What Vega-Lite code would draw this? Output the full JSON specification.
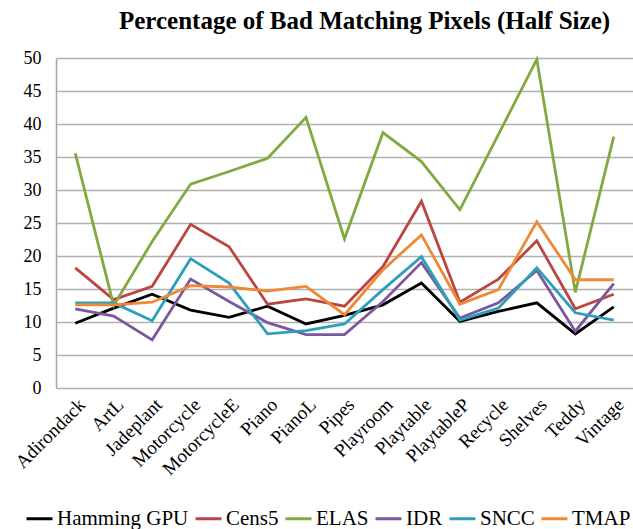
{
  "$schema": "https://vega.github.io/schema/vega-lite/v6.json",
  "width": 577,
  "height": 330,
  "autosize": {"type": "none"},
  "padding": {"left": 56, "top": 58, "right": 0, "bottom": 141},
  "background": "white",
  "title": {
    "text": "Percentage of Bad Matching Pixels (Half Size)",
    "font": "Liberation Serif",
    "fontSize": 25,
    "fontWeight": "bold",
    "color": "#000000",
    "anchor": "middle",
    "frame": "group",
    "dx": 20,
    "offset": 15
  },
  "config": {
    "view": {"stroke": null},
    "font": "Liberation Serif",
    "axis": {"labelFont": "Liberation Serif"},
    "legend": {"labelFont": "Liberation Serif"}
  },
  "data": {
    "values": [
      {"scene": "Adirondack", "method": "Hamming GPU", "value": 9.8},
      {"scene": "ArtL", "method": "Hamming GPU", "value": 12.1},
      {"scene": "Jadeplant", "method": "Hamming GPU", "value": 14.2},
      {"scene": "Motorcycle", "method": "Hamming GPU", "value": 11.8},
      {"scene": "MotorcycleE", "method": "Hamming GPU", "value": 10.7},
      {"scene": "Piano", "method": "Hamming GPU", "value": 12.4},
      {"scene": "PianoL", "method": "Hamming GPU", "value": 9.7},
      {"scene": "Pipes", "method": "Hamming GPU", "value": 11.0},
      {"scene": "Playroom", "method": "Hamming GPU", "value": 12.6},
      {"scene": "Playtable", "method": "Hamming GPU", "value": 15.9},
      {"scene": "PlaytableP", "method": "Hamming GPU", "value": 10.1},
      {"scene": "Recycle", "method": "Hamming GPU", "value": 11.6},
      {"scene": "Shelves", "method": "Hamming GPU", "value": 12.9},
      {"scene": "Teddy", "method": "Hamming GPU", "value": 8.2},
      {"scene": "Vintage", "method": "Hamming GPU", "value": 12.3},

      {"scene": "Adirondack", "method": "Cens5", "value": 18.2},
      {"scene": "ArtL", "method": "Cens5", "value": 13.4},
      {"scene": "Jadeplant", "method": "Cens5", "value": 15.4},
      {"scene": "Motorcycle", "method": "Cens5", "value": 24.8},
      {"scene": "MotorcycleE", "method": "Cens5", "value": 21.4},
      {"scene": "Piano", "method": "Cens5", "value": 12.7},
      {"scene": "PianoL", "method": "Cens5", "value": 13.5},
      {"scene": "Pipes", "method": "Cens5", "value": 12.4},
      {"scene": "Playroom", "method": "Cens5", "value": 18.4},
      {"scene": "Playtable", "method": "Cens5", "value": 28.3},
      {"scene": "PlaytableP", "method": "Cens5", "value": 13.0},
      {"scene": "Recycle", "method": "Cens5", "value": 16.5},
      {"scene": "Shelves", "method": "Cens5", "value": 22.3},
      {"scene": "Teddy", "method": "Cens5", "value": 12.0},
      {"scene": "Vintage", "method": "Cens5", "value": 14.2},

      {"scene": "Adirondack", "method": "ELAS", "value": 35.6},
      {"scene": "ArtL", "method": "ELAS", "value": 12.5},
      {"scene": "Jadeplant", "method": "ELAS", "value": 22.2},
      {"scene": "Motorcycle", "method": "ELAS", "value": 30.9},
      {"scene": "MotorcycleE", "method": "ELAS", "value": 32.8},
      {"scene": "Piano", "method": "ELAS", "value": 34.8},
      {"scene": "PianoL", "method": "ELAS", "value": 41.0},
      {"scene": "Pipes", "method": "ELAS", "value": 22.6},
      {"scene": "Playroom", "method": "ELAS", "value": 38.7},
      {"scene": "Playtable", "method": "ELAS", "value": 34.3},
      {"scene": "PlaytableP", "method": "ELAS", "value": 27.0},
      {"scene": "Recycle", "method": "ELAS", "value": 38.4},
      {"scene": "Shelves", "method": "ELAS", "value": 49.8},
      {"scene": "Teddy", "method": "ELAS", "value": 14.5},
      {"scene": "Vintage", "method": "ELAS", "value": 38.1},

      {"scene": "Adirondack", "method": "IDR", "value": 12.0},
      {"scene": "ArtL", "method": "IDR", "value": 10.9},
      {"scene": "Jadeplant", "method": "IDR", "value": 7.3},
      {"scene": "Motorcycle", "method": "IDR", "value": 16.5},
      {"scene": "MotorcycleE", "method": "IDR", "value": 13.1},
      {"scene": "Piano", "method": "IDR", "value": 9.9},
      {"scene": "PianoL", "method": "IDR", "value": 8.1},
      {"scene": "Pipes", "method": "IDR", "value": 8.1},
      {"scene": "Playroom", "method": "IDR", "value": 13.1},
      {"scene": "Playtable", "method": "IDR", "value": 19.0},
      {"scene": "PlaytableP", "method": "IDR", "value": 10.6},
      {"scene": "Recycle", "method": "IDR", "value": 12.9},
      {"scene": "Shelves", "method": "IDR", "value": 17.8},
      {"scene": "Teddy", "method": "IDR", "value": 8.6},
      {"scene": "Vintage", "method": "IDR", "value": 15.8},

      {"scene": "Adirondack", "method": "SNCC", "value": 12.9},
      {"scene": "ArtL", "method": "SNCC", "value": 12.9},
      {"scene": "Jadeplant", "method": "SNCC", "value": 10.2},
      {"scene": "Motorcycle", "method": "SNCC", "value": 19.6},
      {"scene": "MotorcycleE", "method": "SNCC", "value": 15.9},
      {"scene": "Piano", "method": "SNCC", "value": 8.2},
      {"scene": "PianoL", "method": "SNCC", "value": 8.7},
      {"scene": "Pipes", "method": "SNCC", "value": 9.7},
      {"scene": "Playroom", "method": "SNCC", "value": 14.9},
      {"scene": "Playtable", "method": "SNCC", "value": 19.9},
      {"scene": "PlaytableP", "method": "SNCC", "value": 10.3},
      {"scene": "Recycle", "method": "SNCC", "value": 12.1},
      {"scene": "Shelves", "method": "SNCC", "value": 18.2},
      {"scene": "Teddy", "method": "SNCC", "value": 11.4},
      {"scene": "Vintage", "method": "SNCC", "value": 10.3},

      {"scene": "Adirondack", "method": "TMAP", "value": 12.6},
      {"scene": "ArtL", "method": "TMAP", "value": 12.6},
      {"scene": "Jadeplant", "method": "TMAP", "value": 13.0},
      {"scene": "Motorcycle", "method": "TMAP", "value": 15.5},
      {"scene": "MotorcycleE", "method": "TMAP", "value": 15.3},
      {"scene": "Piano", "method": "TMAP", "value": 14.7},
      {"scene": "PianoL", "method": "TMAP", "value": 15.4},
      {"scene": "Pipes", "method": "TMAP", "value": 11.1},
      {"scene": "Playroom", "method": "TMAP", "value": 17.9},
      {"scene": "Playtable", "method": "TMAP", "value": 23.2},
      {"scene": "PlaytableP", "method": "TMAP", "value": 12.7},
      {"scene": "Recycle", "method": "TMAP", "value": 14.9},
      {"scene": "Shelves", "method": "TMAP", "value": 25.2},
      {"scene": "Teddy", "method": "TMAP", "value": 16.4},
      {"scene": "Vintage", "method": "TMAP", "value": 16.4}
    ]
  },
  "mark": {"type": "line", "strokeWidth": 2.8, "strokeJoin": "miter"},
  "encoding": {
    "x": {
      "field": "scene",
      "type": "nominal",
      "sort": null,
      "scale": {"type": "point", "padding": 0.5},
      "axis": {
        "title": null,
        "labelAngle": -45,
        "labelFont": "Liberation Serif",
        "labelFontSize": 19,
        "labelColor": "#000000",
        "labelPadding": 7,
        "ticks": false,
        "domain": false,
        "grid": false
      }
    },
    "y": {
      "field": "value",
      "type": "quantitative",
      "scale": {"domain": [0, 50], "nice": false},
      "axis": {
        "title": null,
        "values": [0, 5, 10, 15, 20, 25, 30, 35, 40, 45, 50],
        "labelFont": "Liberation Serif",
        "labelFontSize": 18,
        "labelColor": "#000000",
        "labelPadding": 15,
        "ticks": false,
        "domain": true,
        "domainColor": "#a6a6a6",
        "domainWidth": 1.5,
        "grid": true,
        "gridColor": "#b0b0b0",
        "gridWidth": 1.5
      }
    },
    "color": {
      "field": "method",
      "type": "nominal",
      "sort": ["Hamming GPU", "Cens5", "ELAS", "IDR", "SNCC", "TMAP"],
      "scale": {
        "domain": ["Hamming GPU", "Cens5", "ELAS", "IDR", "SNCC", "TMAP"],
        "range": ["#000000", "#bb4541", "#80aa40", "#7b589e", "#2e9fba", "#ee8a35"]
      },
      "legend": {
        "title": null,
        "orient": "none",
        "direction": "horizontal",
        "legendX": -31,
        "legendY": 446,
        "symbolType": "stroke",
        "symbolStrokeWidth": 3,
        "symbolSize": 676,
        "labelFont": "Liberation Serif",
        "labelFontSize": 21,
        "labelColor": "#000000",
        "labelOffset": 3,
        "columnPadding": 0
      }
    }
  }
}
